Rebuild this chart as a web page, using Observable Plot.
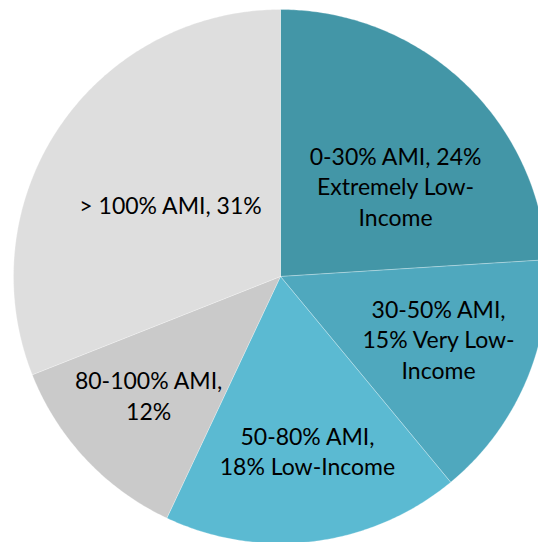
<!DOCTYPE html>
<html>
<head>
<meta charset="utf-8">
<script src="https://cdn.jsdelivr.net/npm/d3@7"></script>
<script src="https://cdn.jsdelivr.net/npm/@observablehq/plot@0.6"></script>
<style>
  html, body { margin: 0; padding: 0; background: #fff; overflow: hidden; }
  #chart { width: 538px; height: 542px; overflow: hidden; }
</style>
</head>
<body>
<div id="chart"></div>
<script>
const categories = ["0-30% AMI", "30-50% AMI", "50-80% AMI", "80-100% AMI", "> 100% AMI"];
const shares = [24, 15, 18, 12, 31];
const sliceColors = ["#4396a7", "#4fa8be", "#5bbad2", "#cacaca", "#dedede"];
const labels = [
  "0-30% AMI, 24%\nExtremely Low-\nIncome",
  "30-50% AMI,\n15% Very Low-\nIncome",
  "50-80% AMI,\n18% Low-Income",
  "80-100% AMI,\n12%",
  "> 100% AMI, 31%"
];
// label anchor positions in unit-circle coordinates
const labelX = [0.431, 0.592, 0.101, -0.494, -0.412];
const labelY = [0.341, -0.232, -0.650, -0.442, 0.270];

const pie = d3.pie().sort(null).value(d => d)(shares);
const polys = [];
pie.forEach((a, i) => {
  const n = Math.max(2, Math.ceil((a.endAngle - a.startAngle) / 0.01));
  polys.push({cat: categories[i], x: 0, y: 0, i});
  for (let k = 0; k <= n; k++) {
    const t = a.startAngle + (a.endAngle - a.startAngle) * k / n;
    polys.push({cat: categories[i], x: Math.sin(t), y: Math.cos(t), i});
  }
  polys.push({cat: categories[i], x: 0, y: 0, i});
});
const labelData = labels.map((t, i) => ({t, x: labelX[i], y: labelY[i]}));

const cx = 280, cy = 276, r = 267;
const chart = Plot.plot({
  width: 538,
  height: 542,
  margin: 0,
  style: {background: "#fff", overflow: "hidden"},
  x: {domain: [-1, 1], range: [cx - r, cx + r], axis: null},
  y: {domain: [-1, 1], range: [cy + r, cy - r], axis: null},
  color: {domain: categories, range: sliceColors},
  marks: [
    Plot.line(polys, {x: "x", y: "y", z: "cat", fill: "cat", stroke: "#ffffff", strokeOpacity: 0.35, strokeWidth: 0.8, curve: "linear-closed"}),
    Plot.text(labelData, {x: "x", y: "y", text: "t", fontSize: 23, lineHeight: 1.33, fill: "#000", fontFamily: "Lato", lineAnchor: "middle", textAnchor: "middle"})
  ]
});
document.getElementById("chart").appendChild(chart);
</script>
</body>
</html>
